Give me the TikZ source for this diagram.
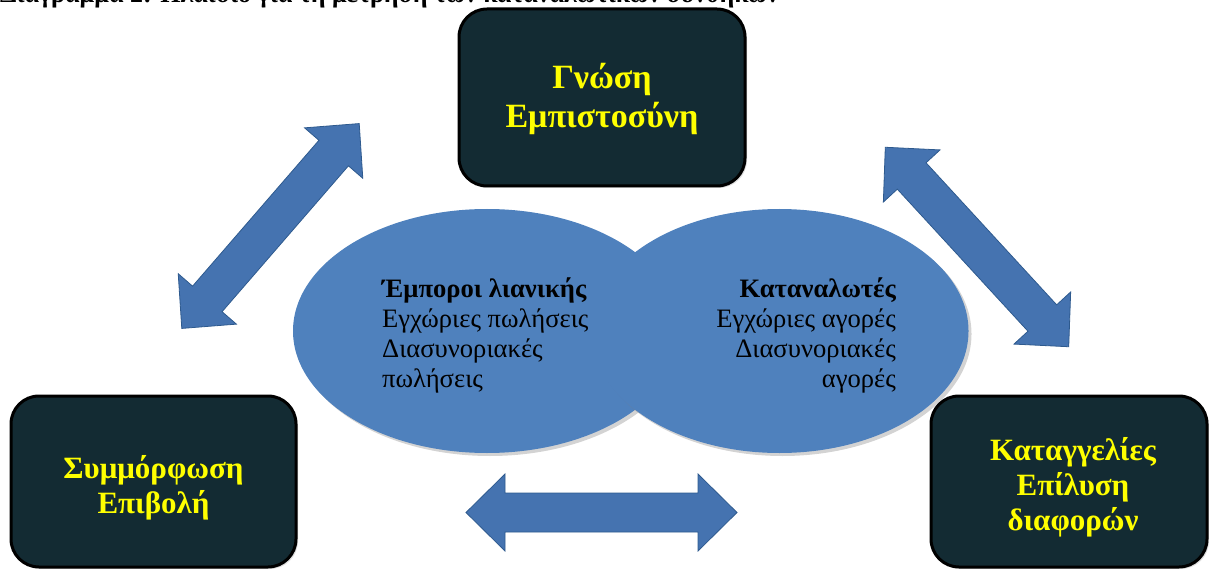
\documentclass[tikz,border=0pt]{standalone}
\usepackage{fontspec}
\setmainfont{Liberation Serif}
\usetikzlibrary{shadows}
\definecolor{boxfill}{HTML}{132B33}
\definecolor{ellfill}{HTML}{4F81BD}
\definecolor{arrfill}{HTML}{4573B0}
\definecolor{arrline}{HTML}{2E5A8E}
\definecolor{boxtext}{HTML}{FFFF00}
\tikzset{
  darkbox/.style={draw=black, line width=3pt, fill=boxfill, rounded corners=28pt,
    drop shadow={opacity=0.25, shadow xshift=2pt, shadow yshift=-2pt}},
  boxlabel/.style={text=boxtext, font=\bfseries\fontsize{31}{35}\selectfont, align=center, inner sep=0pt},
  bubble/.style={fill=ellfill, drop shadow={opacity=0.35, shadow xshift=3pt, shadow yshift=-3pt}},
  arrowshape/.style={fill=arrfill, draw=arrline, line width=0.8pt, line join=miter},
  txt/.style={inner sep=0pt, font=\fontsize{26.6}{30}\selectfont, text=black},
  txtb/.style={inner sep=0pt, font=\bfseries\fontsize{26.6}{30}\selectfont, text=black},
}
\newcommand\blockarrow[2]{%
  \begin{scope}[shift={#1}, rotate=#2]
    \draw[arrowshape] (-135.5,0) -- (-96.5,38.5) -- (-96.5,19.5) -- (96.5,19.5)
      -- (96.5,38.5) -- (135.5,0) -- (96.5,-38.5) -- (96.5,-19.5)
      -- (-96.5,-19.5) -- (-96.5,-38.5) -- cycle;
  \end{scope}}
\begin{document}
\begin{tikzpicture}[x=1pt, y=-1pt]
\useasboundingbox (0,0) rectangle (1209,569);
\clip (0,0) rectangle (1209,569);
\node[anchor=base west, inner sep=0pt, font=\bfseries\fontsize{26}{30}\selectfont] (title) at (0,3)
  {Διάγραμμα 2: Πλαίσιο για τη μέτρηση των καταναλωτικών συνθηκών};
% boxes
\node[darkbox, minimum width=286pt, minimum height=177pt] (know) at (602,97.5) {};
\node[darkbox, minimum width=285pt, minimum height=171pt] (comp) at (153.5,481.5) {};
\node[darkbox, minimum width=276pt, minimum height=171pt] (compl) at (1069,481.5) {};
\node[boxlabel, font=\bfseries\fontsize{34}{39}\selectfont] (knowt) at ([yshift=-1pt]know.center) {Γνώση\\Εμπιστοσύνη};
\node[boxlabel] (compt) at ([yshift=-6pt]comp.center) {Συμμόρφωση\\Επιβολή};
\node[boxlabel] (complt) at ([xshift=4pt, yshift=-6pt]compl.center) {Καταγγελίες\\Επίλυση\\διαφορών};
% arrows
\blockarrow{(270.5,226)}{49.1}
\blockarrow{(977,247)}{-47.4}
\blockarrow{(601.5,512.5)}{0}
% ellipses
\path[bubble] (487,331) ellipse [x radius=194pt, y radius=122pt];
\path[bubble] (779.5,331) ellipse [x radius=189pt, y radius=122pt];
% left ellipse text
\node[txtb, anchor=base west] (r1) at (382,297) {Έμποροι λιανικής};
\node[txt, anchor=base west] (r2) at (382,327) {Εγχώριες πωλήσεις};
\node[txt, anchor=base west] (r3) at (382,357) {Διασυνοριακές};
\node[txt, anchor=base west] (r4) at (382,387) {πωλήσεις};
% right ellipse text
\node[txtb, anchor=base east] (c1) at (896,297) {Καταναλωτές};
\node[txt, anchor=base east] (c2) at (896,327) {Εγχώριες αγορές};
\node[txt, anchor=base east] (c3) at (896,357) {Διασυνοριακές};
\node[txt, anchor=base east] (c4) at (896,387) {αγορές};
\end{tikzpicture}
\end{document}
